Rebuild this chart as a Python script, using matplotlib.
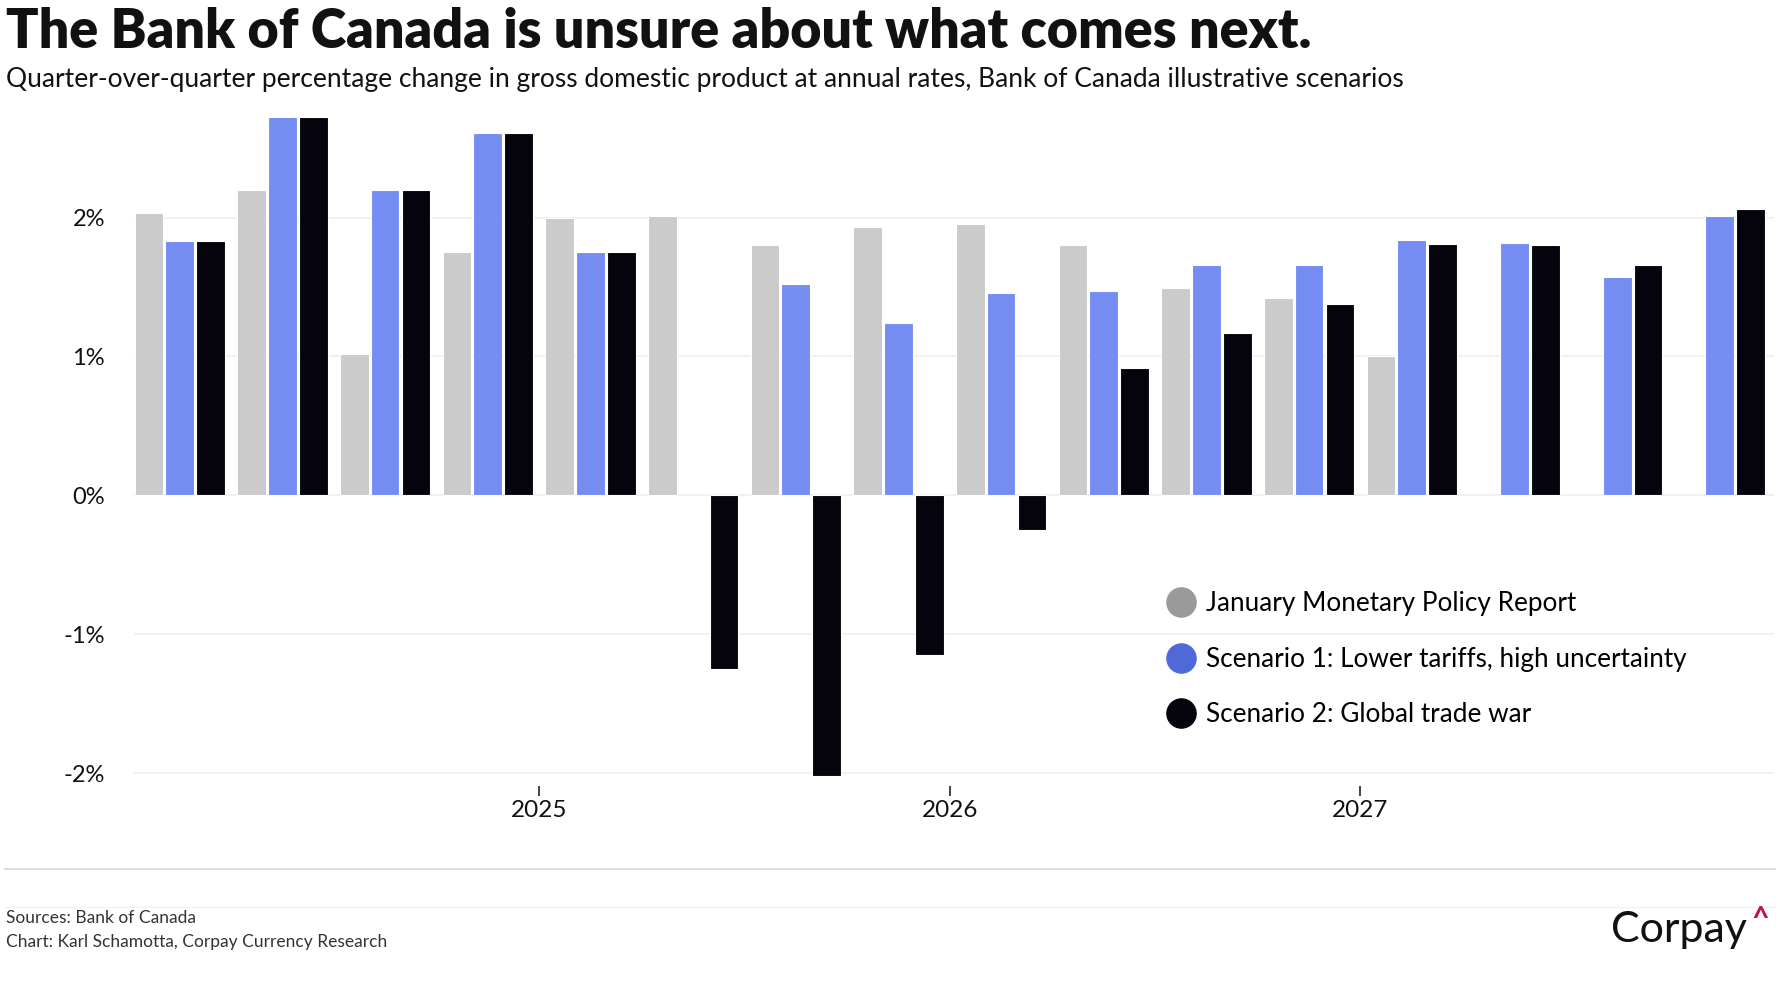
import numpy as np
import matplotlib.pyplot as plt
from matplotlib.lines import Line2D

plt.rcParams['font.family'] = ['Lato', 'DejaVu Sans']

# quarters 2024Q1 .. 2027Q4
quarters = ['2024Q1', '2024Q2', '2024Q3', '2024Q4',
            '2025Q1', '2025Q2', '2025Q3', '2025Q4',
            '2026Q1', '2026Q2', '2026Q3', '2026Q4',
            '2027Q1', '2027Q2', '2027Q3', '2027Q4']
nan = np.nan
january_mpr = [2.03, 2.20, 1.02, 1.75, 2.00, 2.01, 1.80, 1.93,
               1.95, 1.80, 1.49, 1.42, 1.00, nan, nan, nan]
scenario_1 = [1.83, 2.72, 2.20, 2.61, 1.75, nan, 1.52, 1.24,
              1.46, 1.47, 1.66, 1.66, 1.84, 1.82, 1.57, 2.01]
scenario_2 = [1.83, 2.72, 2.20, 2.61, 1.75, -1.25, -2.02, -1.15,
              -0.25, 0.92, 1.17, 1.38, 1.81, 1.80, 1.66, 2.06]
year_labels = ['2025', '2026', '2027']
year_pos = [3.5, 7.5, 11.5]

bar_colors = ['#cbcbcb', '#758df3', '#05040c']
legend_colors = ['#9a9a9a', '#4f6ad8', '#05040c']
names = ['January Monetary Policy Report',
         'Scenario 1: Lower tariffs, high uncertainty',
         'Scenario 2: Global trade war']

fig = plt.figure(figsize=(17.76, 10), dpi=100)
ax = fig.add_axes([0.0756, 0.2141, 0.9234, 0.674])

x = np.arange(len(quarters))
w = 0.28
for i, vals in enumerate([january_mpr, scenario_1, scenario_2]):
    ax.bar(x + (i - 1) * 0.3, vals, width=w, color=bar_colors[i],
           edgecolor='white', linewidth=0.8, zorder=3)

ax.set_xlim(-0.443, 15.53)
ax.set_ylim(-2.09, 2.76)
ax.set_yticks([-2, -1, 0, 1, 2])
ax.set_yticklabels(['-2%', '-1%', '0%', '1%', '2%'])
ax.set_xticks(year_pos)
ax.set_xticklabels(year_labels)
ax.tick_params(axis='y', length=0, pad=21, labelsize=17, labelcolor='#111111')
ax.tick_params(axis='x', length=7.5, width=1.2, color='#222222', pad=3,
               labelsize=17.5, labelcolor='#111111')
ax.grid(axis='y', color='#efefef', linewidth=1.2, zorder=0)
for s in ax.spines.values():
    s.set_visible(False)

handles = [Line2D([], [], marker='o', linestyle='none', markersize=21,
                  markerfacecolor=c, markeredgecolor=c) for c in legend_colors]
fig.legend(handles, names, loc='upper left', bbox_to_anchor=(0.652, 0.419),
           frameon=False, fontsize=18.8, labelspacing=1.16, handlelength=1.0,
           handletextpad=0.45, borderaxespad=0)

# titles
fig.text(0.0034, 0.952, 'The Bank of Canada is unsure about what comes next.',
         fontsize=38.7, fontweight='heavy', color='#111111', va='baseline')
fig.text(0.0034, 0.9135, 'Quarter-over-quarter percentage change in gross domestic product '
         'at annual rates, Bank of Canada illustrative scenarios',
         fontsize=19, color='#111111', va='baseline')

# footer
fig.add_artist(Line2D([0.003, 1.0], [0.131, 0.131], color='#dedede', lw=1.5))
fig.add_artist(Line2D([0.003, 1.0], [0.093, 0.093], color='#f3f3f3', lw=1))
fig.text(0.0034, 0.077, 'Sources: Bank of Canada', fontsize=12.5,
         color='#333333', va='baseline')
fig.text(0.0034, 0.053, 'Chart: Karl Schamotta, Corpay Currency Research',
         fontsize=12.5, color='#333333', va='baseline')
fig.text(0.907, 0.058, 'Corpay', fontsize=31, color='#111111', va='baseline')
fig.text(0.986, 0.072, '^', fontsize=22, fontweight='bold', color='#c0143c',
         va='baseline')

fig.savefig('out.png', dpi=100)
